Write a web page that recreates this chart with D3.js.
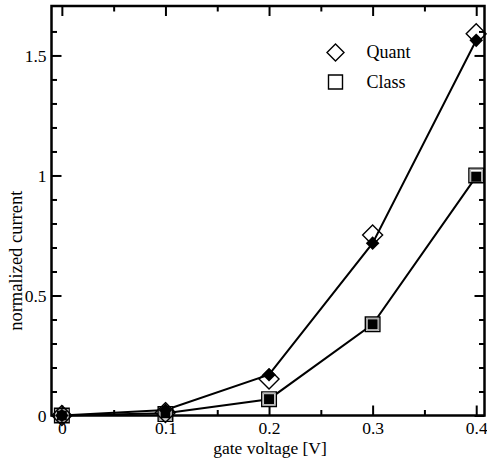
<!DOCTYPE html>
<html>
<head>
<meta charset="utf-8">
<script src="https://cdn.jsdelivr.net/npm/d3@7/dist/d3.min.js"></script>
<style>
  html, body { margin: 0; padding: 0; background: #fff; }
  svg { display: block; }
  svg text { font-family: "Liberation Serif", "DejaVu Serif", serif !important; fill: #000; }
</style>
</head>
<body>
<svg id="chart" width="487" height="459"></svg>
<script>
// Gate voltage sweep [V]
const voltages = [0, 0.1, 0.2, 0.3, 0.4];
// Quantum model: fitted curve (filled diamonds) and raw points (open diamonds)
const quantFit = [0, 0.023, 0.17, 0.718, 1.563];
const quantRaw = [0, 0.012, 0.152, 0.752, 1.59];
// Classical model: fitted curve (filled squares) and raw points (open squares)
const classFit = [0, 0.009, 0.068, 0.38, 0.995];
const classRaw = [0, 0.006, 0.068, 0.38, 1.0];

const xMajor = [0, 0.1, 0.2, 0.3, 0.4];
const xMinor = [0.05, 0.15, 0.25, 0.35];
const yMajor = [0, 0.5, 1, 1.5];
const yMinor = [0.1, 0.2, 0.3, 0.4, 0.6, 0.7, 0.8, 0.9, 1.1, 1.2, 1.3, 1.4, 1.6];

const legendItems = ["Quant", "Class"];

const svg = d3.select("#chart");
const L = 51.5, R = 484.5, T = 6, B = 415.5;

const x = d3.scaleLinear().domain([-0.01, 0.408]).range([L, R]);
const y = d3.scaleLinear().domain([0, 1.706]).range([B, T]);

const fmt = d => d === 0 ? "0" : d3.format("")(d);

// Axes with inward ticks on all four sides
function axisGroup(axisFn, scale, vals, size, transform, labels) {
  const g = svg.append("g").attr("transform", transform)
    .call(axisFn(scale).tickValues(vals).tickSize(size).tickPadding(7)
      .tickFormat(labels ? fmt : ""));
  g.attr("font-family", null);
  g.select(".domain").remove();
  g.selectAll(".tick line").attr("stroke", "#000").attr("stroke-width", 2);
  g.selectAll(".tick text")
    .style("font-family", "'Liberation Serif', serif")
    .style("font-size", "17.5px");
  return g;
}

// bottom
axisGroup(d3.axisBottom, x, xMajor, -10, `translate(0,${B})`, true)
  .selectAll(".tick text").attr("dy", null).attr("y", 18);
axisGroup(d3.axisBottom, x, xMinor, -5.5, `translate(0,${B})`, false);
// top
axisGroup(d3.axisTop, x, xMajor, -10, `translate(0,${T})`, false);
axisGroup(d3.axisTop, x, xMinor, -5.5, `translate(0,${T})`, false);
// left
axisGroup(d3.axisLeft, y, yMajor, -10, `translate(${L},0)`, true)
  .selectAll(".tick text").attr("x", -5).attr("dy", "0.35em");
axisGroup(d3.axisLeft, y, yMinor, -5.5, `translate(${L},0)`, false);
// right
axisGroup(d3.axisRight, y, yMajor, -10, `translate(${R},0)`, false);
axisGroup(d3.axisRight, y, yMinor, -5.5, `translate(${R},0)`, false);

// Frame
svg.append("rect")
  .attr("x", L).attr("y", T).attr("width", R - L).attr("height", B - T)
  .attr("fill", "none").attr("stroke", "#000").attr("stroke-width", 2.5);

// Axis titles
svg.append("text")
  .attr("x", (L + R) / 2 + 2).attr("y", 454)
  .attr("text-anchor", "middle").style("font-size", "17.5px")
  .text("gate voltage [V]");
svg.append("text")
  .attr("transform", `translate(21.5,${(T + B) / 2 + 50}) rotate(-90)`)
  .attr("text-anchor", "middle").style("font-size", "18.5px")
  .text("normalized current");

// Data lines
const line = d3.line().x((d, i) => x(voltages[i])).y(d => y(d));
[quantFit, classFit].forEach(s => {
  svg.append("path").datum(s).attr("d", line)
    .attr("fill", "none").attr("stroke", "#000").attr("stroke-width", 2);
});

const diamond = r => `M0,${-r}L${r},0L0,${r}L${-r},0Z`;
const square = h => `M${-h},${-h}H${h}V${h}H${-h}Z`;

// Open squares (classical raw points)
svg.append("g").selectAll("path").data(classRaw).join("path")
  .attr("transform", (d, i) => `translate(${x(voltages[i])},${y(d)})`)
  .attr("d", square(7.3)).attr("fill", "#fff")
  .attr("stroke", "#000").attr("stroke-width", 1.4);
svg.append("g").selectAll("path").data(classRaw).join("path")
  .attr("transform", (d, i) => `translate(${x(voltages[i])},${y(d)})`)
  .attr("d", square(6)).attr("fill", "none")
  .attr("stroke", "#999").attr("stroke-width", 1);
// Filled squares (classical fit)
svg.append("g").selectAll("path").data(classFit).join("path")
  .attr("transform", (d, i) => `translate(${x(voltages[i])},${y(d)})`)
  .attr("d", square(5)).attr("fill", "#000");

// Open diamonds (quantum raw points)
svg.append("g").selectAll("path").data(quantRaw).join("path")
  .attr("transform", (d, i) => `translate(${x(voltages[i])},${y(d)})`)
  .attr("d", diamond(10)).attr("fill", "none")
  .attr("stroke", "#000").attr("stroke-width", 1.4);
// Filled diamonds (quantum fit)
svg.append("g").selectAll("path").data(quantFit).join("path")
  .attr("transform", (d, i) => `translate(${x(voltages[i])},${y(d)})`)
  .attr("d", diamond(6.8)).attr("fill", "#000");

// Legend
const leg = svg.append("g");
leg.append("path").attr("transform", "translate(335.5,52.5)")
  .attr("d", diamond(8.5)).attr("fill", "none")
  .attr("stroke", "#000").attr("stroke-width", 1.4);
leg.append("path").attr("transform", "translate(335.5,82)")
  .attr("d", square(7)).attr("fill", "none")
  .attr("stroke", "#000").attr("stroke-width", 1.4);
leg.selectAll("text").data(legendItems).join("text")
  .attr("x", 366.5).attr("y", (d, i) => 57.5 + i * 30)
  .style("font-size", "18px").text(d => d);
</script>
</body>
</html>
